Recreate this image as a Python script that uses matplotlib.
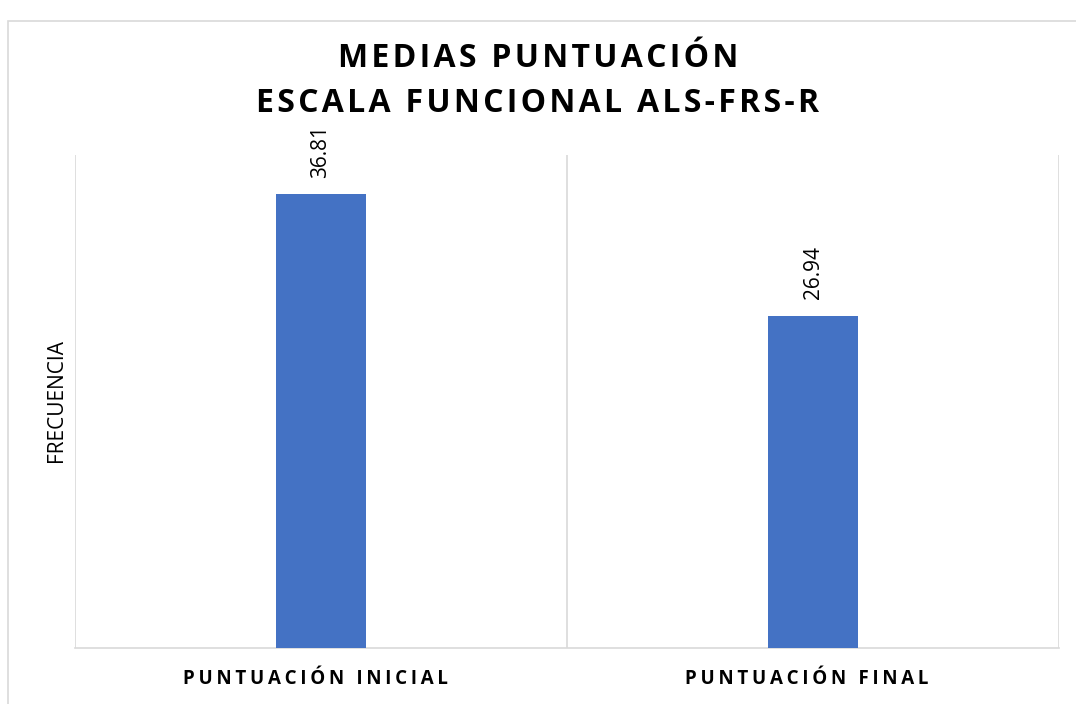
import matplotlib
matplotlib.use('Agg')
from matplotlib import pyplot as plt
from matplotlib import transforms
from matplotlib.patches import Rectangle

categories = ['PUNTUACIÓN INICIAL', 'PUNTUACIÓN FINAL']
medias = [36.81, 26.94]

title_lines = ['MEDIAS PUNTUACIÓN', 'ESCALA FUNCIONAL ALS-FRS-R']
ylabel_text = 'FRECUENCIA'

bar_color = '#4472C4'
grid_color = '#D9D9D9'
fonts = ['Open Sans', 'DejaVu Sans']


def spaced(text, gap='\u200a'):
    # fake letter spacing by putting a narrow space between letters
    return gap.join(list(text))


W, H = 1076, 704
fig = plt.figure(figsize=(W / 100, H / 100), dpi=100)
# plot area in pixels: x 75..1059, y 155..648
ax = fig.add_axes([75 / W, 1 - 648 / H, (1059 - 75) / W, (648 - 155) / H])

x = list(range(len(categories)))
bars = ax.bar(x, medias, width=0.183, color=bar_color, zorder=3)

ax.set_xlim(-0.5, len(categories) - 0.5)
ax.set_ylim(0, 40)

# vertical separators between categories
for b in [-0.5, 0.5, 1.5]:
    ax.axvline(b, color=grid_color, linewidth=1.2, zorder=1)

for side in ['top', 'right', 'left']:
    ax.spines[side].set_visible(False)
ax.spines['bottom'].set_color(grid_color)
ax.spines['bottom'].set_linewidth(1.2)

ax.set_yticks([])
ax.set_xticks(x)
ax.set_xticklabels([spaced(c, '\u2009') for c in categories], fontsize=13.5,
                   fontweight='bold', family=fonts)
ax.tick_params(axis='x', length=0, pad=15)
shift = transforms.ScaledTranslation(-6 / 100, 0, fig.dpi_scale_trans)
for lbl in ax.get_xticklabels():
    lbl.set_transform(lbl.get_transform() + shift)

for bar, v in zip(bars, medias):
    ax.annotate(f'{v:.2f}', (bar.get_x() + bar.get_width() / 2, v),
                xytext=(0, 12), textcoords='offset points', rotation=90,
                ha='center', va='bottom', fontsize=15, family=fonts)

fig.text(56 / W, 1 - 400 / H, ylabel_text, rotation=90, ha='center', va='center',
         fontsize=15, family=fonts)

fig.text(0.5, 1 - 67 / H, spaced(title_lines[0]), ha='center', va='baseline',
         fontsize=23, fontweight='bold', family=fonts)
fig.text(0.5, 1 - 112 / H, spaced(title_lines[1]), ha='center', va='baseline',
         fontsize=23, fontweight='bold', family=fonts)

# chart border
fig.patches.append(Rectangle((8 / W, -0.01), 1.0, 1 - 21 / H + 0.01,
                             transform=fig.transFigure, fill=False,
                             edgecolor='#D9D9D9', linewidth=1.2))

fig.savefig('out.png', dpi=100)
